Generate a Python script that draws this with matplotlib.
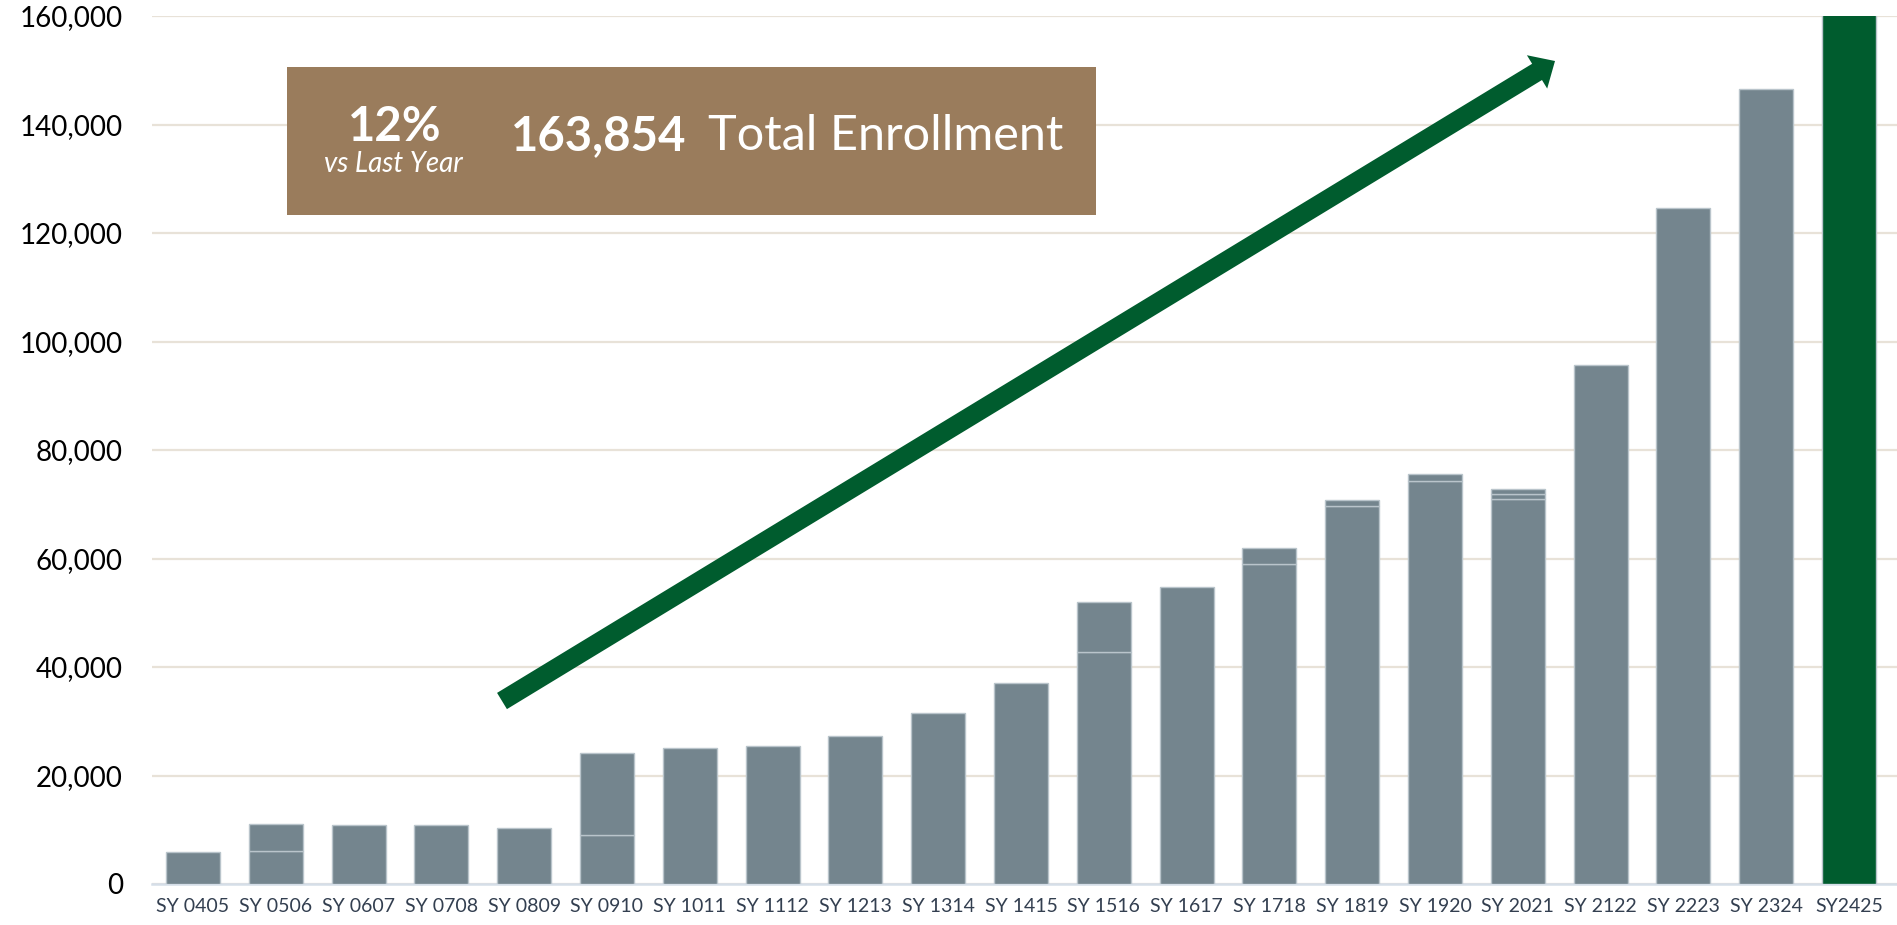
import matplotlib
matplotlib.use("Agg")
import matplotlib.pyplot as plt
from matplotlib.patches import FancyArrow, Rectangle
from matplotlib.ticker import FuncFormatter, MultipleLocator
import numpy as np

plt.rcParams['font.family'] = ['Lato', 'DejaVu Sans']

categories = ["SY 0405", "SY 0506", "SY 0607", "SY 0708", "SY 0809", "SY 0910",
              "SY 1011", "SY 1112", "SY 1213", "SY 1314", "SY 1415", "SY 1516",
              "SY 1617", "SY 1718", "SY 1819", "SY 1920", "SY 2021", "SY 2122",
              "SY 2223", "SY 2324", "SY2425"]
layer1 = [5900, 6000, 10900, 10900, 10400, 9000, 25000, 25400, 27200, 31600, 37000,
          42700, 54800, 58900, 69700, 74200, 70900, 95600, 124600, 146500, 163854]
layer2 = [0, 5100, 0, 0, 0, 15200, 0, 0, 0, 0, 0,
          9200, 0, 3000, 1100, 1300, 900, 0, 0, 0, 0]
layer3 = [0, 0, 0, 0, 0, 0, 0, 0, 0, 0, 0,
          0, 0, 0, 0, 0, 1000, 0, 0, 0, 0]
total_enrollment = "163,854"
change_vs_last_year = "12%"

GRAY = "#74858E"
GREEN = "#005C2E"
BOX = "#9A7C5C"

W, H = 1897, 925
fig = plt.figure(figsize=(W / 100, H / 100), dpi=100)
ax = fig.add_axes([152 / W, (H - 884) / H, (W - 152) / W, (884 - 16) / H])

x = np.arange(len(categories))
colors = [GRAY] * (len(categories) - 1) + [GREEN]
l1 = np.array(layer1)
l2 = np.array(layer2)
l3 = np.array(layer3)
bw = 0.652
edge = "#B9C4CB"
ax.bar(x, l1, width=bw, color=colors, edgecolor=edge, linewidth=1.0, zorder=3)
ax.bar(x, l2, bottom=l1, width=bw, color=colors, edgecolor=[edge if v > 0 else 'none' for v in l2],
       linewidth=1.0, zorder=3)
ax.bar(x, l3, bottom=l1 + l2, width=bw, color=colors, edgecolor=[edge if v > 0 else 'none' for v in l3],
       linewidth=1.0, zorder=3)

ax.set_ylim(0, 160000)
ax.set_xlim(-0.495, 20.58)
ax.yaxis.set_major_locator(MultipleLocator(20000))
ax.yaxis.set_major_formatter(FuncFormatter(lambda v, p: f"{v:,.0f}"))
ax.grid(axis='y', color="#E8E2D8", linewidth=1.6, zorder=0)
ax.set_axisbelow(True)
for s in ['top', 'right', 'left']:
    ax.spines[s].set_visible(False)
ax.spines['bottom'].set_color("#D5DEE8")
ax.spines['bottom'].set_linewidth(1.8)
ax.set_xticks(x)
ax.set_xticklabels(categories, fontsize=14, color="#333F50")
ax.tick_params(axis='x', length=0, pad=10)
ax.tick_params(axis='y', length=0, pad=21, labelsize=20, labelcolor="black")

# Summary box (figure pixel coordinates)
def px(xp, yp):
    return xp / 100, (H - yp) / 100

bx, by = px(287, 215)
fig.patches.append(Rectangle((bx, by), (1096 - 287) / 100, (215 - 67) / 100,
                             transform=fig.dpi_scale_trans, facecolor=BOX,
                             edgecolor='none', zorder=5))
t = fig.dpi_scale_trans
fig.text(*px(395, 141), change_vs_last_year, transform=t, ha='center', va='baseline',
         fontsize=34, fontweight='bold', color='white', zorder=6)
fig.text(*px(393, 172), "vs Last Year", transform=t, ha='center', va='baseline',
         fontsize=20, fontstyle='italic', color='white', zorder=6)
fig.text(*px(511, 150), total_enrollment, transform=t, ha='left', va='baseline',
         fontsize=34, fontweight='bold', color='white', zorder=6)
fig.text(*px(708, 150), "Total Enrollment", transform=t, ha='left', va='baseline',
         fontsize=35, color='white', zorder=6)

# Trend arrow
tx, ty = px(502, 701)
hx, hy = px(1555, 61)
arr = FancyArrow(tx, ty, hx - tx, hy - ty, width=0.19, head_width=0.39,
                 head_length=0.21, length_includes_head=True,
                 transform=t, facecolor=GREEN, edgecolor='none', zorder=6)
fig.patches.append(arr)

fig.savefig("out.png", dpi=100)
